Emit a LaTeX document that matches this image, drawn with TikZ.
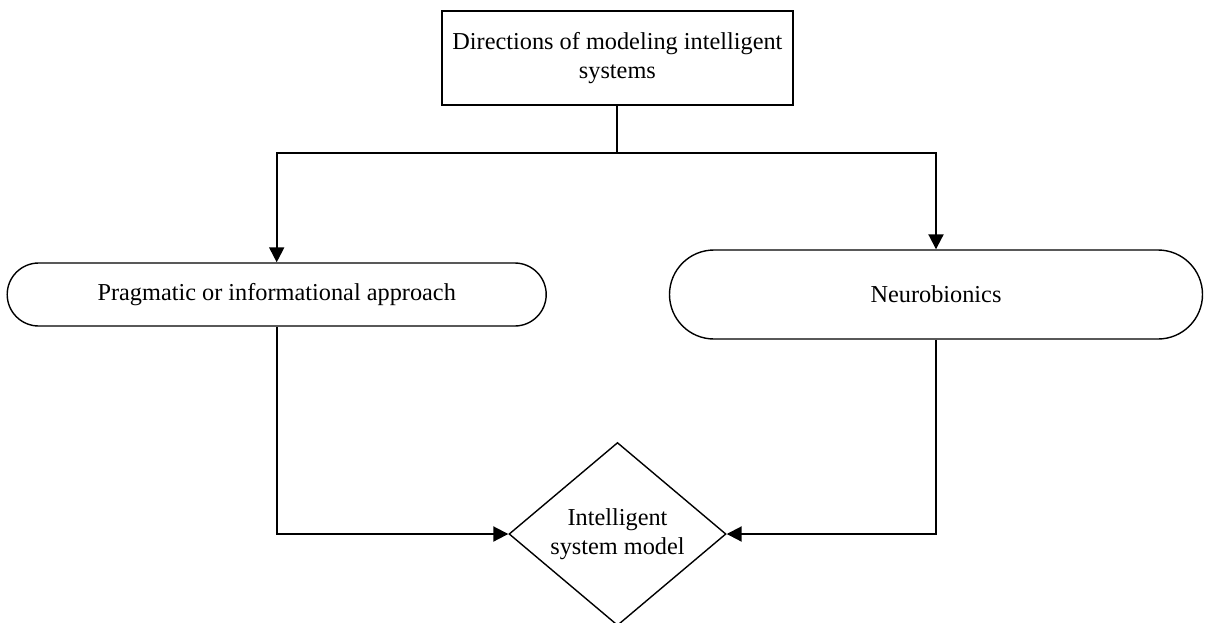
\documentclass[tikz,border=0pt]{standalone}
\usepackage{fontspec}
\setmainfont{Liberation Serif}
\usetikzlibrary{arrows.meta,shapes.geometric}
\tikzset{
  shapeline/.style={draw=black, line width=1.4pt, fill=white, inner sep=0pt,
    font=\fontsize{24.3}{29}\selectfont, align=center},
  topbox/.style={shapeline, rectangle, minimum width=351pt, minimum height=94pt},
  pill/.style={shapeline, rectangle, rounded corners=#1},
  decision/.style={shapeline, diamond, minimum width=217pt, minimum height=183pt, aspect=1.186},
  flow/.style={draw=black, line width=2pt},
  arr/.style={flow, -{Triangle[length=15pt, width=15pt]}}
}
\begin{document}
\begin{tikzpicture}[x=1pt, y=-1pt]
\useasboundingbox (0,0) rectangle (1205,622);

\node[topbox] (dirs) at (617.4,58) {Directions of modeling intelligent\\systems};
\node[pill=31.5pt, minimum width=539pt, minimum height=63pt] (prag) at (276.7,294.5)
  {Pragmatic or informational approach};
\node[pill=44.5pt, minimum width=533pt, minimum height=89pt] (neuro) at (936,294.5)
  {Neurobionics};
\node[decision] (model) at (617.5,534) {Intelligent\\system model};

% branching from the top box
\draw[flow] (dirs.south) -- ++(0,47.7) coordinate (split);
\draw[arr] (split) -| (prag.north);
\draw[arr] (split) -| (neuro.north);

% both approaches lead into the model
\draw[arr] (prag.south) |- (model.west);
\draw[arr] (neuro.south) |- (model.east);
\end{tikzpicture}
\end{document}
